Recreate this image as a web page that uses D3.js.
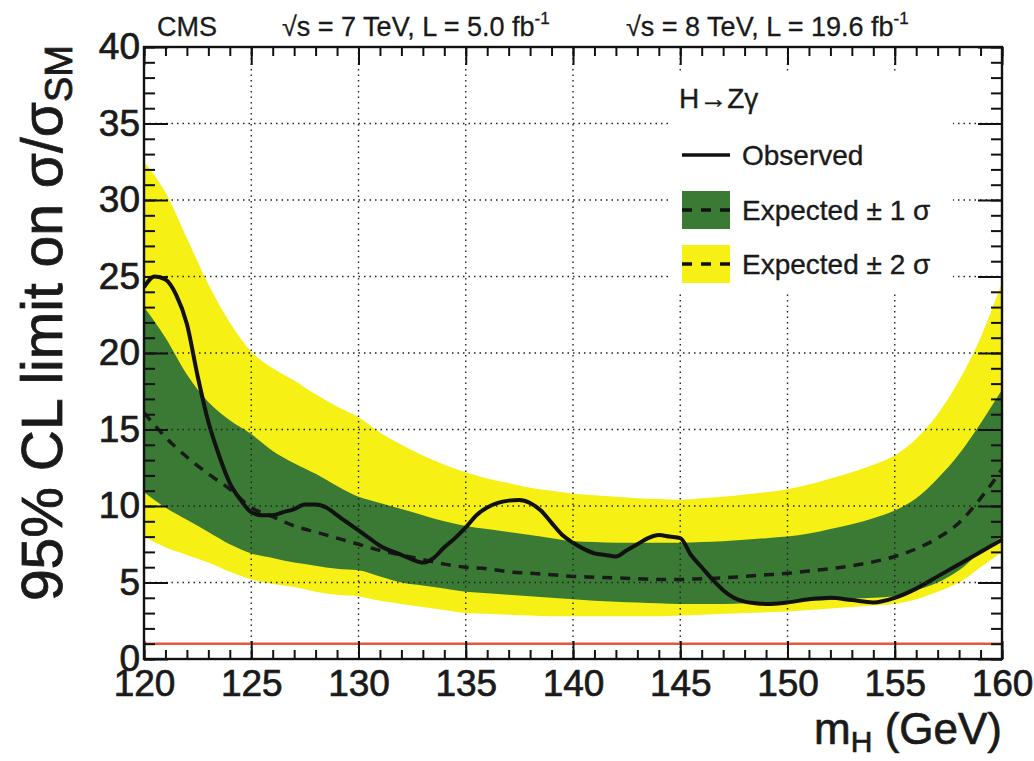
<!DOCTYPE html>
<html>
<head>
<meta charset="utf-8">
<script src="https://cdn.jsdelivr.net/npm/d3@7"></script>
<style>
  body { margin: 0; background: #fff; }
  svg { display: block; font-family: "Liberation Sans", Arial, Helvetica, sans-serif; }
</style>
</head>
<body>
<div id="viz"></div>
<script>
// mass points for the expected bands (GeV)
const massGrid = [120,121,122,123,124,125,126,127,128,129,130,131,132,133,134,135,136,137,138,139,140,
  141,142,143,144,145,146,147,148,149,150,151,152,153,154,155,156,157,158,159,160];

const expMedian = [16.1,14.5,13.2,12.1,11.1,9.9,9.3,8.7,8.3,7.9,7.5,7.1,6.8,6.5,6.2,6.0,5.9,5.7,5.6,5.5,5.4,
  5.35,5.3,5.25,5.2,5.2,5.25,5.3,5.4,5.5,5.6,5.75,5.9,6.1,6.35,6.7,7.2,7.9,8.9,10.5,12.4];

const exp1Up = [23.0,21.0,18.6,16.8,15.6,14.7,13.6,12.8,12.1,11.3,10.6,10.2,9.8,9.4,9.0,8.7,8.5,8.3,8.1,7.9,7.7,
  7.65,7.6,7.6,7.6,7.6,7.65,7.7,7.8,7.9,8.0,8.2,8.5,8.8,9.2,9.7,10.5,11.8,13.4,15.4,17.6];
const exp1Down = [10.9,9.9,9.1,8.3,7.5,6.9,6.6,6.3,6.1,5.9,5.8,5.4,5.0,4.8,4.6,4.4,4.3,4.2,4.1,4.0,3.9,
  3.8,3.75,3.7,3.65,3.6,3.6,3.6,3.65,3.7,3.7,3.8,3.85,3.95,4.0,4.1,4.5,5.0,5.8,7.0,8.0];

const exp2Up = [32.5,30.5,27.5,24.5,22.0,20.1,19.0,18.2,17.3,16.5,15.8,14.8,14.0,13.3,12.7,12.2,11.8,11.5,11.2,11.0,10.8,
  10.7,10.6,10.5,10.45,10.4,10.5,10.6,10.75,10.9,11.1,11.4,11.8,12.2,12.7,13.3,14.4,16.0,18.2,21.0,24.6];
const exp2Down = [8.0,7.3,6.8,6.3,5.7,5.2,4.9,4.7,4.4,4.2,4.1,3.8,3.6,3.4,3.2,3.0,2.95,2.9,2.85,2.8,2.8,
  2.8,2.8,2.8,2.8,2.85,2.9,2.95,3.0,3.05,3.1,3.2,3.3,3.4,3.5,3.6,3.9,4.4,5.0,6.0,7.0];

// observed limit
const obsMass = [120,120.5,121,121.5,122,122.5,123,123.5,124,124.5,125,125.5,126,126.5,127,127.5,128,128.5,129,129.5,
  130,130.5,131,132,132.5,133,133.5,134,134.5,135,135.5,136,136.5,137,137.5,138,138.5,139,139.5,
  140,140.5,141,141.5,142,142.5,143,143.5,144,144.5,145,145.5,146,146.5,147,147.5,148,148.5,149,
  150,151,152,153,154,155,156,157,158,159,160];
const obsLimit = [24.3,25.0,24.8,23.8,21.9,18.5,15.5,13.3,11.5,10.4,9.6,9.4,9.4,9.6,9.8,10.1,10.1,9.9,9.4,8.9,
  8.4,7.9,7.4,6.8,6.5,6.3,6.6,7.3,7.9,8.6,9.4,9.9,10.2,10.35,10.4,10.2,9.7,8.9,8.1,
  7.6,7.2,6.9,6.8,6.7,7.1,7.5,7.9,8.1,8.0,7.9,6.8,6.0,5.2,4.5,4.0,3.75,3.65,3.6,
  3.7,3.9,4.0,3.85,3.7,4.0,4.6,5.4,6.2,7.0,7.8];

const smLine = 1;
const xTicks = [120,125,130,135,140,145,150,155,160];
const yTicks = [0,5,10,15,20,25,30,35,40];

const W = 1034, H = 761;
const frame = {left: 144, right: 1002, top: 47, bottom: 659};

const svg = d3.select("#viz").append("svg")
  .attr("width", W)
  .attr("height", H);

const x = d3.scaleLinear().domain([120, 160]).range([frame.left, frame.right]);
const y = d3.scaleLinear().domain([0, 40]).range([frame.bottom, frame.top]);

const green = "#3a7a34", yellow = "#f6f014", ink = "#1a1a1a";

const bands = massGrid.map((m, i) => ({
  m: m, med: expMedian[i], u1: exp1Up[i], d1: exp1Down[i], u2: exp2Up[i], d2: exp2Down[i]
}));

svg.append("clipPath").attr("id", "frameclip")
  .append("rect").attr("x", frame.left).attr("y", frame.top)
  .attr("width", frame.right - frame.left).attr("height", frame.bottom - frame.top);

const plot = svg.append("g").attr("clip-path", "url(#frameclip)");

plot.append("path")
  .datum(bands)
  .attr("fill", yellow)
  .attr("d", d3.area().curve(d3.curveMonotoneX).x(d => x(d.m)).y0(d => y(d.d2)).y1(d => y(d.u2)));

plot.append("path")
  .datum(bands)
  .attr("fill", green)
  .attr("d", d3.area().curve(d3.curveMonotoneX).x(d => x(d.m)).y0(d => y(d.d1)).y1(d => y(d.u1)));

// dotted grid
const grid = svg.append("g").attr("stroke", "#222").attr("stroke-width", 1.4).attr("stroke-dasharray", "1.5,4");
grid.selectAll("line.gx")
  .data(xTicks.slice(1, -1))
  .enter().append("line")
  .attr("x1", d => x(d)).attr("x2", d => x(d))
  .attr("y1", frame.top).attr("y2", frame.bottom);
grid.selectAll("line.gy")
  .data(yTicks.slice(1, -1))
  .enter().append("line")
  .attr("x1", frame.left).attr("x2", frame.right)
  .attr("y1", d => y(d)).attr("y2", d => y(d));

// legend box hides the grid
svg.append("rect")
  .attr("x", 672).attr("y", 73).attr("width", 281).attr("height", 219)
  .attr("fill", "#fff");

// SM = 1 reference
plot.append("line")
  .attr("x1", x(120)).attr("x2", x(160))
  .attr("y1", y(smLine)).attr("y2", y(smLine))
  .attr("stroke", "#e8553c").attr("stroke-width", 2.5);

plot.append("path")
  .datum(bands)
  .attr("fill", "none")
  .attr("stroke", ink)
  .attr("stroke-width", 3.5)
  .attr("stroke-dasharray", "10,8")
  .attr("d", d3.line().curve(d3.curveMonotoneX).x(d => x(d.m)).y(d => y(d.med)));

plot.append("path")
  .datum(obsMass.map((m, i) => [m, obsLimit[i]]))
  .attr("fill", "none")
  .attr("stroke", "#111")
  .attr("stroke-width", 4)
  .attr("stroke-linejoin", "round")
  .attr("d", d3.line().curve(d3.curveMonotoneX).x(d => x(d[0])).y(d => y(d[1])));

// axes, ROOT style ticks pointing inward
const minorX = d3.range(120, 161, 1), minorY = d3.range(0, 41, 1);

function styleAxis(g) {
  g.select(".domain").remove();
  g.selectAll("line").attr("stroke", "#111").attr("stroke-width", 2);
}
function styleLabels(sel) {
  sel.attr("font-size", 37).attr("fill", ink)
    .attr("stroke", ink).attr("stroke-width", 0.7)
    .attr("font-family", "Liberation Sans, Arial, sans-serif");
}

svg.append("g").attr("transform", `translate(0,${frame.bottom})`)
  .call(d3.axisBottom(x).tickValues(minorX).tickSize(-9).tickFormat(""))
  .call(styleAxis);
svg.append("g").attr("transform", `translate(0,${frame.bottom})`)
  .call(d3.axisBottom(x).tickValues(xTicks).tickSize(-18).tickPadding(11))
  .call(styleAxis)
  .selectAll("text").call(styleLabels);

svg.append("g").attr("transform", `translate(0,${frame.top})`)
  .call(d3.axisTop(x).tickValues(minorX).tickSize(-9).tickFormat(""))
  .call(styleAxis);
svg.append("g").attr("transform", `translate(0,${frame.top})`)
  .call(d3.axisTop(x).tickValues(xTicks).tickSize(-18).tickFormat(""))
  .call(styleAxis);

svg.append("g").attr("transform", `translate(${frame.left},0)`)
  .call(d3.axisLeft(y).tickValues(minorY).tickSize(-11).tickFormat(""))
  .call(styleAxis);
svg.append("g").attr("transform", `translate(${frame.left},0)`)
  .call(d3.axisLeft(y).tickValues(yTicks).tickSize(-24).tickPadding(4))
  .call(styleAxis)
  .selectAll("text").call(styleLabels);

svg.append("g").attr("transform", `translate(${frame.right},0)`)
  .call(d3.axisRight(y).tickValues(minorY).tickSize(-11).tickFormat(""))
  .call(styleAxis);
svg.append("g").attr("transform", `translate(${frame.right},0)`)
  .call(d3.axisRight(y).tickValues(yTicks).tickSize(-24).tickFormat(""))
  .call(styleAxis);

svg.append("rect")
  .attr("x", frame.left).attr("y", frame.top)
  .attr("width", frame.right - frame.left).attr("height", frame.bottom - frame.top)
  .attr("fill", "none").attr("stroke", "#111").attr("stroke-width", 2.4);

// axis titles
const yTitle = svg.append("text")
  .attr("transform", `translate(62,${frame.top - 2}) rotate(-90)`)
  .attr("text-anchor", "end")
  .attr("font-size", 57)
  .attr("fill", ink).attr("stroke", ink).attr("stroke-width", 0.8);
yTitle.append("tspan").text("95% CL limit on σ/σ");
yTitle.append("tspan").attr("font-size", 38).attr("dy", 10).text("SM");

const xTitle = svg.append("text")
  .attr("x", frame.right).attr("y", 744)
  .attr("text-anchor", "end")
  .attr("font-size", 44)
  .attr("fill", ink).attr("stroke", ink).attr("stroke-width", 0.7);
xTitle.append("tspan").text("m");
xTitle.append("tspan").attr("font-size", 30).attr("dy", 8).text("H");
xTitle.append("tspan").attr("dy", -8).text(" (GeV)");

// header
const hdr = svg.append("g").attr("fill", ink).attr("font-size", 27).attr("stroke", ink).attr("stroke-width", 0.3);
hdr.append("text").attr("x", 157).attr("y", 36).text("CMS");

function header(x0, txt) {
  const t = hdr.append("text").attr("x", x0).attr("y", 36);
  t.append("tspan").text(txt);
  t.append("tspan").attr("font-size", 17).attr("dy", -12).text("-1");
}
header(282, "√s = 7 TeV, L = 5.0 fb");
header(626, "√s = 8 TeV, L = 19.6 fb");

// legend
const lg = svg.append("g").attr("fill", ink).attr("font-size", 28).attr("stroke", ink).attr("stroke-width", 0.35);
lg.append("text").attr("x", 679).attr("y", 108).text("H→Zγ");

lg.append("line").attr("x1", 682).attr("x2", 730).attr("y1", 155).attr("y2", 155)
  .attr("stroke", "#111").attr("stroke-width", 3.5);
lg.append("text").attr("x", 742).attr("y", 165).text("Observed");

const legendBands = [
  {y0: 191, color: green, label: "Expected ± 1 σ"},
  {y0: 245, color: yellow, label: "Expected ± 2 σ"}
];
legendBands.forEach(b => {
  lg.append("rect").attr("x", 682).attr("y", b.y0).attr("width", 48).attr("height", 38)
    .attr("fill", b.color).attr("stroke", "none");
  lg.append("line").attr("x1", 682).attr("x2", 730).attr("y1", b.y0 + 19).attr("y2", b.y0 + 19)
    .attr("stroke", "#111").attr("stroke-width", 3.5).attr("stroke-dasharray", "10,9");
  lg.append("text").attr("x", 742).attr("y", b.y0 + 29).text(b.label);
});
</script>
</body>
</html>
